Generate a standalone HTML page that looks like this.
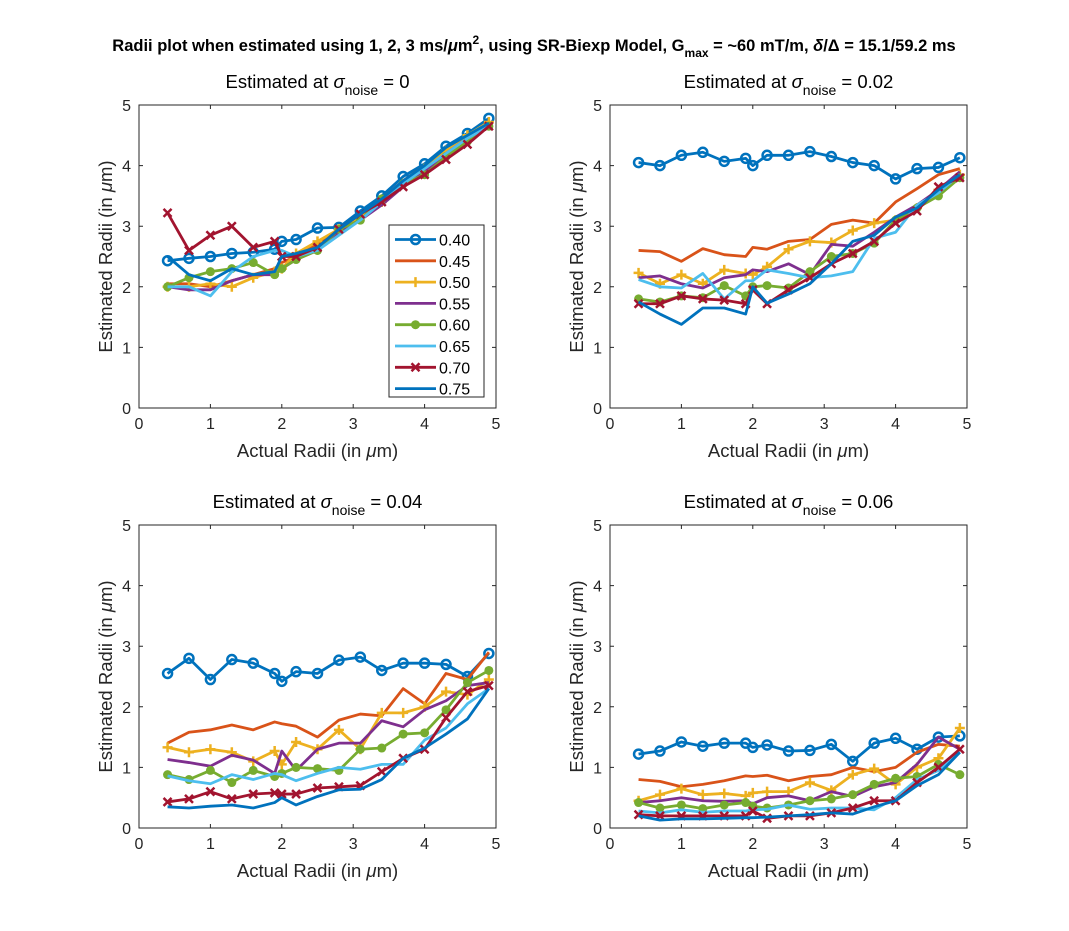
<!DOCTYPE html>
<html><head><meta charset="utf-8"><style>
body{margin:0;background:#fff}
svg{font-family:"Liberation Sans",Arial,sans-serif}
</style></head><body>
<svg id="fig" width="1069" height="926" xmlns="http://www.w3.org/2000/svg">
<rect width="1069" height="926" fill="#fff"/>
<text x="534" y="51" text-anchor="middle" font-size="16.5" font-weight="bold">Radii plot when estimated using 1, 2, 3 ms/<tspan font-style="italic">μ</tspan>m<tspan dy="-7" font-size="12">2</tspan><tspan dy="7">, using SR-Biexp Model, G</tspan><tspan dy="6" font-size="12">max</tspan><tspan dy="-6"> = ~60 mT/m, </tspan><tspan font-style="italic">δ</tspan>/Δ = 15.1/59.2 ms</text>
</svg>
<script>
const xVals=[0.4,0.7,1.0,1.3,1.6,1.9,2.0,2.2,2.5,2.8,3.1,3.4,3.7,4.0,4.3,4.6,4.9];
const seriesNames=["0.40","0.45","0.50","0.55","0.60","0.65","0.70","0.75"];
const xTicks=[0,1,2,3,4,5];
const yTicks=[0,1,2,3,4,5];
const noiseLabels=["0","0.02","0.04","0.06"];
const p1=[
[2.43,2.47,2.5,2.55,2.57,2.62,2.75,2.78,2.97,2.98,3.25,3.5,3.82,4.03,4.32,4.53,4.78],
[2.05,2.05,2.0,2.1,2.2,2.3,2.4,2.5,2.7,2.9,3.15,3.45,3.75,4.0,4.25,4.5,4.7],
[2.0,2.0,2.05,2.0,2.15,2.25,2.3,2.55,2.75,2.95,3.15,3.4,3.7,3.95,4.25,4.5,4.72],
[2.0,1.95,1.95,2.1,2.2,2.2,2.3,2.45,2.6,2.9,3.1,3.35,3.65,3.9,4.2,4.45,4.65],
[2.0,2.15,2.25,2.3,2.4,2.2,2.3,2.45,2.6,2.95,3.1,3.45,3.7,3.85,4.15,4.4,4.65],
[2.0,2.0,1.85,2.25,2.5,2.6,2.6,2.5,2.6,2.85,3.1,3.4,3.7,3.95,4.2,4.45,4.65],
[3.22,2.6,2.85,3.0,2.65,2.75,2.5,2.5,2.65,2.95,3.2,3.4,3.65,3.85,4.1,4.35,4.65],
[2.5,2.2,2.1,2.3,2.2,2.25,2.5,2.55,2.65,2.95,3.2,3.45,3.75,4.0,4.3,4.5,4.7]];
const p2=[
[4.05,4.0,4.17,4.22,4.07,4.12,4.0,4.17,4.17,4.23,4.15,4.05,4.0,3.78,3.95,3.97,4.13],
[2.6,2.58,2.42,2.63,2.53,2.5,2.65,2.62,2.75,2.78,3.03,3.1,3.05,3.4,3.62,3.85,3.95],
[2.23,2.05,2.2,2.05,2.28,2.22,2.2,2.33,2.62,2.75,2.73,2.93,3.05,3.1,3.3,3.6,3.85],
[2.15,2.18,2.05,1.98,2.15,2.2,2.28,2.25,2.38,2.2,2.7,2.67,2.9,3.15,3.35,3.6,3.9],
[1.8,1.75,1.85,1.82,2.02,1.85,2.0,2.02,1.98,2.25,2.5,2.55,2.72,3.1,3.3,3.5,3.8],
[2.12,2.0,1.98,2.22,1.8,2.1,2.1,2.28,2.22,2.15,2.18,2.25,2.8,2.9,3.35,3.55,3.85],
[1.72,1.72,1.85,1.8,1.78,1.72,1.95,1.72,1.95,2.15,2.38,2.55,2.75,3.05,3.25,3.65,3.8],
[1.75,1.55,1.38,1.65,1.65,1.55,2.0,1.73,1.88,2.05,2.38,2.75,2.85,3.15,3.3,3.6,3.85]];
const p3=[
[2.55,2.8,2.45,2.78,2.72,2.55,2.42,2.58,2.55,2.77,2.82,2.6,2.72,2.72,2.7,2.5,2.88],
[1.4,1.58,1.62,1.7,1.62,1.75,1.72,1.68,1.5,1.78,1.88,1.85,2.3,2.05,2.55,2.45,2.9],
[1.33,1.25,1.3,1.25,1.1,1.27,1.05,1.42,1.3,1.62,1.3,1.9,1.9,2.0,2.25,2.2,2.45],
[1.13,1.08,1.02,1.2,1.12,0.9,1.27,0.95,1.3,1.4,1.4,1.77,1.67,1.95,2.1,2.35,2.4],
[0.88,0.8,0.95,0.75,0.95,0.85,0.9,1.0,0.98,0.95,1.3,1.32,1.55,1.57,1.95,2.4,2.6],
[0.86,0.78,0.73,0.88,0.8,0.9,0.88,0.78,0.9,1.0,0.97,1.05,1.05,1.45,1.65,2.05,2.3],
[0.43,0.48,0.6,0.48,0.56,0.58,0.56,0.56,0.66,0.68,0.7,0.93,1.15,1.3,1.82,2.25,2.35],
[0.35,0.33,0.36,0.38,0.33,0.42,0.5,0.38,0.52,0.63,0.64,0.8,1.15,1.32,1.55,1.8,2.3]];
const p4=[
[1.22,1.27,1.42,1.35,1.4,1.4,1.33,1.37,1.27,1.28,1.38,1.1,1.4,1.48,1.3,1.5,1.52],
[0.8,0.77,0.68,0.72,0.78,0.86,0.85,0.87,0.78,0.85,0.88,1.0,0.93,1.0,1.25,1.38,1.35],
[0.45,0.55,0.65,0.55,0.57,0.53,0.58,0.6,0.6,0.75,0.62,0.88,0.98,0.72,1.0,1.15,1.65],
[0.42,0.45,0.5,0.45,0.44,0.45,0.4,0.5,0.53,0.45,0.6,0.52,0.68,0.75,1.05,1.5,1.3],
[0.42,0.33,0.38,0.32,0.38,0.42,0.36,0.33,0.38,0.45,0.48,0.55,0.72,0.82,0.85,1.05,0.88],
[0.28,0.25,0.3,0.26,0.28,0.28,0.3,0.31,0.38,0.31,0.33,0.33,0.3,0.5,0.8,0.95,1.25],
[0.22,0.2,0.2,0.2,0.2,0.2,0.28,0.16,0.2,0.2,0.25,0.33,0.45,0.45,0.75,1.0,1.3],
[0.2,0.13,0.15,0.15,0.16,0.17,0.17,0.18,0.2,0.22,0.25,0.23,0.35,0.45,0.7,0.88,1.25]];
const panels=[p1,p2,p3,p4];
const colors=["#0072BD","#D95319","#EDB120","#7E2F8E","#77AC30","#4DBEEE","#A2142F","#0072BD"];
const markers=["o","","+","","dot","","x",""];
const boxes=[[139,105],[610,105],[139,525],[610,525]];
const W=357,H=303;
const NS="http://www.w3.org/2000/svg";
const svg=document.getElementById('fig');
function mk(tag,attrs,parent){const e=document.createElementNS(NS,tag);for(const k in attrs)e.setAttribute(k,attrs[k]);(parent||svg).appendChild(e);return e;}
function marker(g,type,cx,cy,col){
  if(type==="o"){mk('circle',{cx:cx,cy:cy,r:4.5,fill:'none',stroke:col,'stroke-width':2.5},g);}
  else if(type==="dot"){mk('circle',{cx:cx,cy:cy,r:4.5,fill:col},g);}
  else if(type==="+"){mk('path',{d:`M${cx-5},${cy}H${cx+5}M${cx},${cy-5}V${cy+5}`,stroke:col,'stroke-width':2.5},g);}
  else if(type==="x"){mk('path',{d:`M${cx-4},${cy-4}L${cx+4},${cy+4}M${cx-4},${cy+4}L${cx+4},${cy-4}`,stroke:col,'stroke-width':2.5},g);}
}
panels.forEach((data,pi)=>{
  const [x0,y0]=boxes[pi];
  const sx=v=>x0+v/5*W, sy=v=>y0+H-v/5*H;
  const g=mk('g',{});
  
  
  const ax=mk('rect',{x:x0,y:y0,width:W,height:H,fill:'#fff',stroke:'#262626','stroke-width':1},g);
  
  
  xTicks.forEach(t=>{
    mk('path',{d:`M${sx(t)},${y0+H}v-4M${sx(t)},${y0}v4`,stroke:'#262626'},g);
    const tx=mk('text',{x:sx(t),y:y0+H+21,'text-anchor':'middle','font-size':16,fill:'#262626'},g);tx.textContent=t;
    
    
  });
  yTicks.forEach(t=>{
    mk('path',{d:`M${x0},${sy(t)}h4M${x0+W},${sy(t)}h-4`,stroke:'#262626'},g);
    const ty=mk('text',{x:x0-8,y:sy(t)+6,'text-anchor':'end','font-size':16,fill:'#262626'},g);ty.textContent=t;
    
    
  });
  const xl=mk('text',{x:x0+W/2,y:y0+H+49,'text-anchor':'middle','font-size':18.5,fill:'#262626'},g);
  xl.innerHTML='Actual Radii (in <tspan font-style="italic">μ</tspan>m)';
  
  
  const yl=mk('text',{x:0,y:0,'text-anchor':'middle','font-size':18.5,fill:'#262626',transform:`translate(${x0-27},${y0+H/2}) rotate(-90)`},g);
  yl.innerHTML='Estimated Radii (in <tspan font-style="italic">μ</tspan>m)';
  
  
  const tt=mk('text',{x:x0+W/2,y:y0-17,'text-anchor':'middle','font-size':18.5,fill:'#000'},g);
  tt.innerHTML='Estimated at <tspan font-style="italic">σ</tspan><tspan dy="7" font-size="14">noise</tspan><tspan dy="-7"> = '+noiseLabels[pi]+'</tspan>';
  
  
  data.forEach((ys,si)=>{
    const sg=mk('g',{},g);
    
    
    const pts=ys.map((v,i)=>sx(xVals[i])+','+sy(v)).join(' ');
    mk('polyline',{points:pts,fill:'none',stroke:colors[si],'stroke-width':2.8,'stroke-linejoin':'round'},sg);
    if(markers[si]) ys.forEach((v,i)=>marker(sg,markers[si],sx(xVals[i]),sy(v),colors[si]));
  });
  if(pi===0){
    const lg=mk('g',{},g);
    
    
    mk('rect',{x:389,y:225,width:95,height:172,fill:'#fff',stroke:'#262626','stroke-width':1},lg);
    seriesNames.forEach((n,si)=>{
      const cy=239.5+si*21.3;
      const le=mk('g',{},lg);
      
      
      mk('line',{x1:395,x2:436,y1:cy,y2:cy,stroke:colors[si],'stroke-width':2.8},le);
      if(markers[si]) marker(le,markers[si],415.5,cy,colors[si]);
      const t=mk('text',{x:439,y:cy+6,'font-size':16,fill:'#000'},le);t.textContent=n;
    });
  }
});
</script>
</body></html>
